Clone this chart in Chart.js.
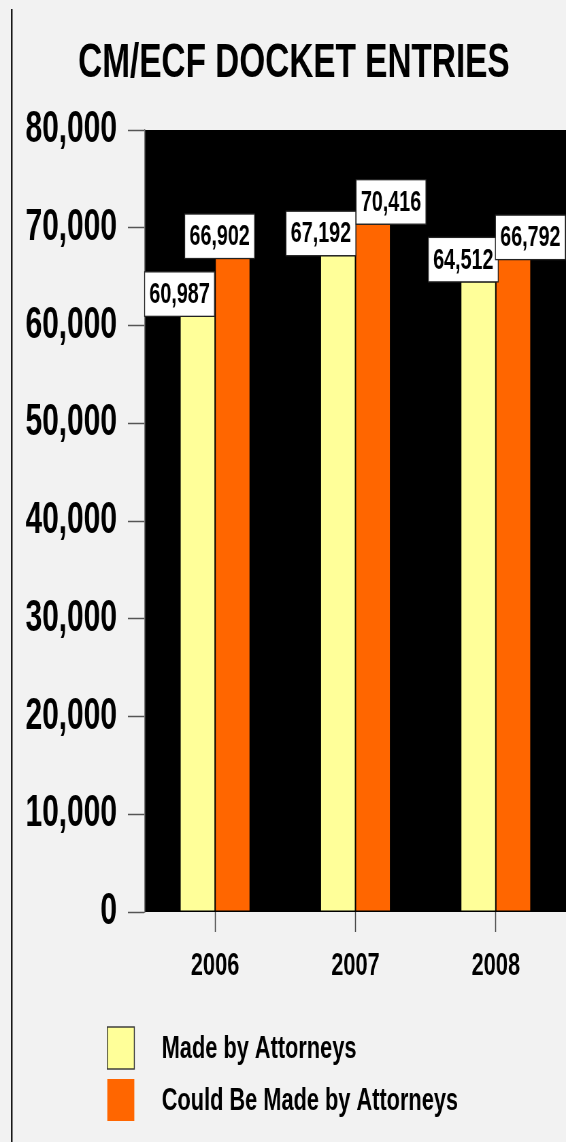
<!DOCTYPE html>
<html><head><meta charset="utf-8">
<script src="https://cdn.jsdelivr.net/npm/chart.js@4.4.1/dist/chart.umd.min.js"></script>
<style>
html,body{margin:0;padding:0;background:#F2F2F2;overflow:hidden}
#c{display:block;width:566px !important;height:1142px !important}
</style></head><body>
<canvas id="c" width="832" height="1142"></canvas>
<script>
// ---- data ----
const categories = ['2006', '2007', '2008'];
const madeByAttorneys = [60987, 67192, 64512];
const couldBeMadeByAttorneys = [66902, 70416, 66792];
const seriesNames = ['Made by Attorneys', 'Could Be Made by Attorneys'];
const yTickValues = [0, 10000, 20000, 30000, 40000, 50000, 60000, 70000, 80000];
const titleText = 'CM/ECF DOCKET ENTRIES';

// ---- rendering helpers ----
const SX = 566 / 832; // horizontal squeeze of the canvas (narrow lettering)
const FONT = '"Liberation Sans", Arial, sans-serif';
const COLORS = ['#FFFF99', '#FF6600'];

const backdrop = {
  id: 'backdrop',
  beforeDraw(chart) {
    const {ctx, chartArea: a, width, height} = chart;
    ctx.save();
    ctx.fillStyle = '#F2F2F2';
    ctx.fillRect(0, 0, width, height);
    ctx.fillStyle = '#000';
    ctx.fillRect(a.left, a.top, a.right - a.left, a.bottom - a.top);
    ctx.fillRect(11 / SX, 9, 1.5 / SX, height - 9);
    ctx.restore();
  }
};

const valueBoxes = {
  id: 'valueBoxes',
  afterDatasetsDraw(chart, args, opts) {
    const ctx = chart.ctx;
    ctx.save();
    ctx.font = `bold ${opts.size}px ${FONT}`;
    ctx.textAlign = 'center';
    ctx.textBaseline = 'middle';
    chart.data.datasets.forEach((ds, di) => {
      const meta = chart.getDatasetMeta(di);
      meta.data.forEach((bar, i) => {
        const txt = ds.data[i].toLocaleString('en-US');
        const w = ctx.measureText(txt).width + 2 * opts.padX;
        const h = opts.height;
        const cx = bar.x + opts.shift[di][i] / SX;
        const bottom = bar.y + 0.5;
        ctx.fillStyle = '#fff';
        ctx.fillRect(cx - w / 2, bottom - h, w, h);
        ctx.strokeStyle = '#222';
        ctx.lineWidth = 1.3;
        ctx.strokeRect(cx - w / 2, bottom - h, w, h);
        ctx.fillStyle = '#000';
        ctx.fillText(txt, cx, bottom - h / 2 + 1);
      });
    });
    ctx.restore();
  }
};

const sideLegend = {
  id: 'sideLegend',
  afterDraw(chart, args, opts) {
    const ctx = chart.ctx;
    ctx.save();
    ctx.font = `bold ${opts.size}px ${FONT}`;
    ctx.textAlign = 'left';
    ctx.textBaseline = 'middle';
    chart.data.datasets.forEach((ds, di) => {
      const y = opts.rows[di];
      const bx = opts.boxX / SX, bw = opts.boxW / SX;
      ctx.fillStyle = ds.backgroundColor;
      ctx.fillRect(bx, y - opts.boxH / 2, bw, opts.boxH);
      if (di === 0) {
        ctx.strokeStyle = '#333';
        ctx.lineWidth = 1.4;
        ctx.strokeRect(bx, y - opts.boxH / 2, bw, opts.boxH);
      }
      ctx.fillStyle = '#000';
      ctx.fillText(ds.label, opts.textX / SX, y + 1);
    });
    ctx.restore();
  }
};

new Chart(document.getElementById('c'), {
  type: 'bar',
  data: {
    labels: categories,
    datasets: [
      {label: seriesNames[0], data: madeByAttorneys, backgroundColor: COLORS[0],
       borderColor: 'rgba(0,0,0,0.5)', borderWidth: 1, borderSkipped: false},
      {label: seriesNames[1], data: couldBeMadeByAttorneys, backgroundColor: COLORS[1],
       borderColor: 'rgba(0,0,0,0.45)', borderWidth: 1, borderSkipped: false}
    ]
  },
  options: {
    responsive: false,
    animation: false,
    layout: {padding: {left: 29, right: -3, top: 0, bottom: 140}},
    datasets: {bar: {categoryPercentage: 0.5, barPercentage: 1}},
    plugins: {
      legend: {display: false},
      tooltip: {enabled: false},
      title: {
        display: true, text: titleText, color: '#000',
        font: {family: FONT, size: 49, weight: 'bold', lineHeight: 1.2},
        padding: {top: 34, bottom: 37.2}
      },
      valueBoxes: {size: 29, padX: 7, height: 44.5,
        shift: [[-18, -17, -15], [-13, 18, 17]]},
      sideLegend: {size: 32, boxX: 107.3, boxW: 27, boxH: 42, textX: 161.7, rows: [1048, 1100]}
    },
    scales: {
      x: {
        grid: {offset: false, drawOnChartArea: false, drawTicks: true, tickLength: 20,
               tickColor: '#444', tickWidth: 1.5},
        border: {display: false},
        ticks: {color: '#000', font: {family: FONT, size: 32, weight: 'bold'}, padding: 15.4,
                maxRotation: 0, autoSkip: false},
        afterFit(s) { s.height = 90; }
      },
      y: {
        min: 0, max: 80000,
        afterBuildTicks(s) { s.ticks = yTickValues.map(v => ({value: v})); },
        ticks: {color: '#000', font: {family: FONT, size: 44, weight: 'bold'}, padding: 16,
                callback: v => v.toLocaleString('en-US')},
        grid: {drawOnChartArea: false, drawTicks: true, tickLength: 25, tickColor: '#555', tickWidth: 1.5},
        border: {display: true, color: '#777', width: 1.5},
        afterFit(s) { s.width = 184; }
      }
    }
  },
  plugins: [backdrop, valueBoxes, sideLegend]
});
</script>
</body></html>
